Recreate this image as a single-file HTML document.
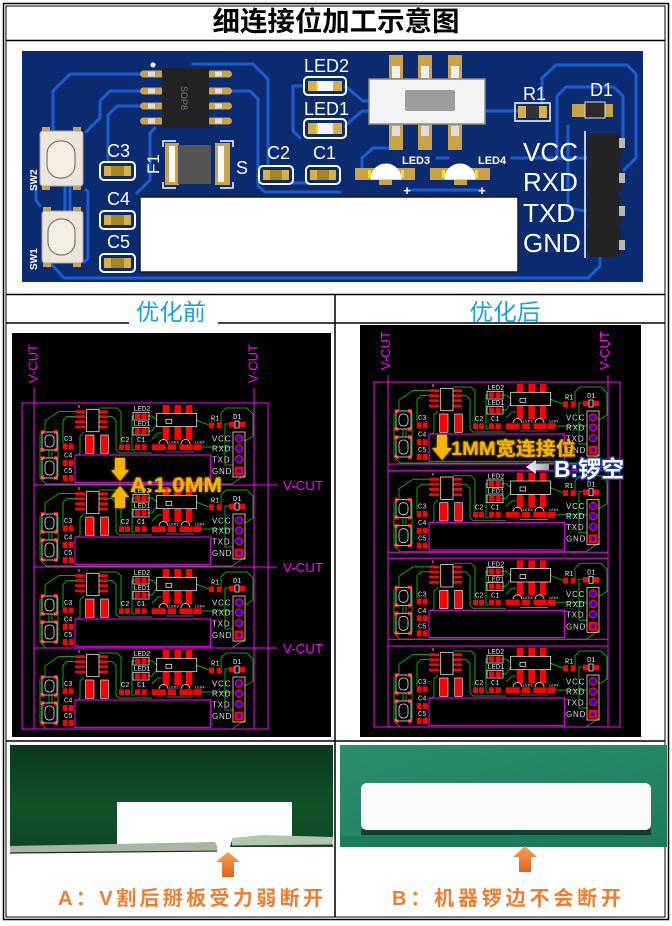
<!DOCTYPE html>
<html><head><meta charset="utf-8">
<style>
html,body{margin:0;padding:0;background:#fff;}
svg{display:block;}
</style></head><body>
<svg width="672" height="926" viewBox="0 0 672 926" xmlns="http://www.w3.org/2000/svg" xmlns:xlink="http://www.w3.org/1999/xlink">
<defs>
 <linearGradient id="gL" x1="0" y1="0" x2="0" y2="1">
  <stop offset="0" stop-color="#0a391b"/>
  <stop offset="0.6" stop-color="#125229"/>
  <stop offset="1" stop-color="#0e4824"/>
 </linearGradient>
 <linearGradient id="gR" x1="0" y1="0" x2="1" y2="1">
  <stop offset="0" stop-color="#2b8d6f"/>
  <stop offset="0.5" stop-color="#258567"/>
  <stop offset="1" stop-color="#1d7b5c"/>
 </linearGradient>
 <linearGradient id="gO" x1="0" y1="0" x2="0" y2="1">
  <stop offset="0" stop-color="#f7a055"/>
  <stop offset="1" stop-color="#e2611e"/>
 </linearGradient>
 <linearGradient id="gW" x1="0" y1="0" x2="1" y2="0">
  <stop offset="0" stop-color="#ffffff"/>
  <stop offset="1" stop-color="#9aa0a0"/>
 </linearGradient>
 <filter id="glow" x="-10%" y="-40%" width="120%" height="180%">
  <feGaussianBlur in="SourceGraphic" stdDeviation="1.3" result="b"/>
  <feMerge><feMergeNode in="b"/><feMergeNode in="SourceGraphic"/></feMerge>
 </filter>
 <g id="bd">
  <g fill="none" stroke="#12a012" stroke-width="1">
   <path d="M41,8.5 L25,8.5 L11,18 L11,28"/>
   <path d="M41,13.5 L33,13.5 L29,17.5 L29,40"/>
   <path d="M65,5 L83,5 L87,9 L87,41"/>
   <path d="M74,13.5 L78,13.5 L82,17.5 L82,47 L85,50 L118,50"/>
   <path d="M101,13 L98,13 L98,47 L101,47"/>
   <path d="M113,13 L118,13 L123,17"/>
   <path d="M113,28 L118,28 L123,21"/>
   <path d="M162,17 L175,22"/>
   <path d="M187,20 L187,10 L192,5 L213,5 L219,11 L219,33 L211,38"/>
   <path d="M195,21 L191,21 L191,62 L199,62"/>
   <path d="M6,31 L6,75 L12,81 L198,81 L211,72"/>
   <path d="M15,47 L15,55 M18,47 L18,55"/>
   <path d="M24,30 L24,74"/>
   <path d="M118,36 L124,30 L128,30"/>
   <path d="M167,44 L199,44"/>
   <path d="M50,29 L46,33 L46,50 L43,53"/>
  </g>
  <path d="M132,49 L160,49" stroke="#bbb" stroke-width="0.6"/>
  <g fill="#f00">
   <rect x="41" y="7.3" width="10" height="2.7"/><rect x="41" y="12.3" width="10" height="2.7"/>
   <rect x="41" y="17.3" width="10" height="2.7"/><rect x="41" y="22.6" width="10" height="2.7"/>
   <rect x="65" y="7.3" width="9" height="2.7"/><rect x="65" y="12.3" width="9" height="2.7"/>
   <rect x="65" y="17.3" width="9" height="2.7"/><rect x="65" y="22.6" width="9" height="2.7"/>
   <rect x="51.7" y="32" width="8.3" height="18.3" stroke="#fff" stroke-width="0.6"/>
   <rect x="66.7" y="32" width="7.6" height="18.3" stroke="#fff" stroke-width="0.6"/>
   <rect x="6.5" y="27" width="4" height="4"/><rect x="20" y="27" width="4" height="4"/>
   <rect x="6.5" y="45" width="4" height="4"/><rect x="20" y="45" width="4" height="4"/>
   <rect x="6.5" y="53" width="4" height="4"/><rect x="20" y="53" width="4" height="4"/>
   <rect x="6.5" y="73" width="4" height="4"/><rect x="20" y="73" width="4" height="4"/>
   <rect x="28.7" y="40.3" width="4.6" height="6"/><rect x="34.7" y="40.3" width="4.6" height="6"/>
   <rect x="28.7" y="57" width="4.6" height="6"/><rect x="34.7" y="57" width="4.6" height="6"/>
   <rect x="28.7" y="72" width="4.6" height="6"/><rect x="34.7" y="72" width="4.6" height="6"/>
   <rect x="85" y="41.3" width="5" height="5.7"/><rect x="91" y="41.3" width="5" height="5.7"/>
   <rect x="101" y="41.3" width="5.2" height="5.7"/><rect x="107.5" y="41.3" width="5.2" height="5.7"/>
   <rect x="101" y="10.3" width="5.2" height="5.7"/><rect x="107.5" y="10.3" width="5.2" height="5.7"/>
   <rect x="101" y="25.3" width="5.2" height="5.7"/><rect x="107.5" y="25.3" width="5.2" height="5.7"/>
   <rect x="128.7" y="2" width="6.6" height="8.3"/><rect x="140.3" y="2" width="6.7" height="8.3"/><rect x="151.7" y="2" width="6.6" height="8.3"/>
   <rect x="128.7" y="23.7" width="6.6" height="13.3"/><rect x="140.3" y="23.7" width="6.7" height="13.3"/><rect x="151.7" y="23.7" width="6.6" height="13.3"/>
   <rect x="117.7" y="41.3" width="14" height="5.7"/><rect x="133.7" y="41.3" width="8.3" height="5.7"/>
   <rect x="145.3" y="41.3" width="13.4" height="5.7"/><rect x="159.3" y="41.3" width="8.4" height="5.7"/>
   <rect x="175" y="19.3" width="5" height="6"/><rect x="182.7" y="19.3" width="5" height="6"/>
   <rect x="195" y="18.7" width="6" height="5.6"/><rect x="205" y="18.7" width="6" height="5.6"/>
   <circle cx="205" cy="35.3" r="4.3"/><circle cx="205" cy="45.5" r="4.3"/><circle cx="205" cy="56" r="4.3"/>
   <rect x="200.5" y="63.5" width="9" height="9"/>
  </g>
  <g fill="#0000ff">
   <circle cx="205" cy="35.3" r="2.8"/><circle cx="205" cy="45.5" r="2.8"/><circle cx="205" cy="56" r="2.8"/><circle cx="205" cy="68" r="2.2"/>
  </g>
  <g fill="none" stroke="#e8e8e8" stroke-width="0.8">
   <rect x="52.7" y="6.3" width="12.3" height="22.4"/>
   <rect x="8" y="29" width="15" height="18"/><rect x="11" y="32" width="9" height="12" rx="4"/>
   <rect x="8" y="55" width="15" height="20"/><rect x="11" y="58" width="9" height="14" rx="4"/>
   <rect x="99" y="9.3" width="16" height="7.7"/><rect x="99" y="24.3" width="16" height="7.7"/>
   <rect x="122.7" y="10.3" width="40" height="13.4"/><rect x="132" y="16.3" width="5.7" height="4"/>
   <path d="M125,41 A4.5,4.5 0 0 1 134,41"/><path d="M147,41 A4.5,4.5 0 0 1 156,41"/>
   <rect x="199" y="29" width="12" height="45"/>
   <rect x="201" y="18" width="4" height="7"/>
   <path d="M45,2 L45,5"/>
  </g>
  <g fill="#e6e6e6" font-family="Liberation Mono, monospace" font-size="7">
   <text x="30" y="38">C3</text><text x="30" y="54.5">C4</text><text x="30" y="70">C5</text>
   <text x="87" y="39">C2</text><text x="103" y="39">C1</text>
   <text x="99.5" y="8">LED2</text><text x="99.5" y="23">LED1</text>
   <text x="177" y="17.5">R1</text><text x="199" y="16">D1</text>
   <text x="135" y="40.5" font-size="4">LED3</text><text x="161" y="40.5" font-size="4">LED4</text>
  </g>
  <g fill="#dcdcdc" font-family="Liberation Sans, sans-serif" font-size="8" letter-spacing="0.8">
   <text x="178" y="38.5">VCC</text><text x="178" y="48.5">RXD</text>
   <text x="178" y="59.3">TXD</text><text x="178" y="71">GND</text>
  </g>
  <rect x="41" y="52" width="135.7" height="27.3" fill="none" stroke="#ff00ff" stroke-width="1"/>
 </g>
</defs>

<!-- frame -->
<rect x="3.5" y="3.5" width="665" height="916" fill="#fff" stroke="#000" stroke-width="1.5"/>
<rect x="6" y="6" width="659" height="911" fill="none" stroke="#000" stroke-width="1"/>
<line x1="6" y1="40.5" x2="665" y2="40.5" stroke="#000" stroke-width="1.5"/>
<line x1="6" y1="294.5" x2="665" y2="294.5" stroke="#000" stroke-width="1.5"/>
<line x1="6" y1="323" x2="129" y2="323" stroke="#000" stroke-width="1.5"/>
<line x1="218" y1="323" x2="335" y2="323" stroke="#000" stroke-width="1.5"/>
<line x1="335" y1="323" x2="665" y2="323" stroke="#000" stroke-width="1.5"/>
<line x1="6" y1="741" x2="665" y2="741" stroke="#000" stroke-width="1.5"/>
<line x1="335" y1="294" x2="335" y2="917" stroke="#000" stroke-width="1.5"/>

<text x="336" y="31" text-anchor="middle" font-family="Liberation Sans, 'Noto Sans CJK SC', sans-serif" font-size="27" font-weight="bold" fill="#000" textLength="247" lengthAdjust="spacingAndGlyphs">细连接位加工示意图</text>

<!-- top PCB -->
<rect x="22" y="51" width="621" height="231" fill="#0b2b70"/>
<g fill="none" stroke="#1c5ccf" stroke-width="3" stroke-linejoin="round" stroke-linecap="round">
 <path d="M140,74 L70,74 L53,91 L53,131"/>
 <path d="M140,91 L110,91 L100,101 L100,118 L86,132"/>
 <path d="M140,106 L117,106 L108,115 L108,161"/>
 <path d="M155,128 L150,133 L150,180 L137,193"/>
 <path d="M193,64 L253,64 L268,79 L268,165"/>
 <path d="M232,91 L250,91 L258,99 L258,186 L265,192 L340,192"/>
 <path d="M52,265 L64,278 L588,278 L600,266 L600,258"/>
 <path d="M303,86 L293,86 L293,131 L300,138"/>
 <path d="M293,183 L308,183"/>
 <path d="M345,86 L363,101 L372,101"/>
 <path d="M345,126 L362,111 L372,111"/>
 <path d="M362,171 L362,158 L373,148 L389,148"/>
 <path d="M407,190 L482,190"/>
 <path d="M437,158 L448,158"/>
 <path d="M512,158 L586,158"/>
 <path d="M485,111 L517,111"/>
 <path d="M542,103 L542,78 L556,65 L627,65 L636,74 L636,158 L624,170"/>
 <path d="M557,160 L557,96 L566,87 L614,87 L623,96 L623,145"/>
 <path d="M568,126 L568,208 L585,211"/>
 <path d="M65,186 L65,211 M70,186 L70,211"/>
 <path d="M86,190 L88,192 L88,258 L84,262"/>
 <path d="M36,186 L36,200 L40,206"/>
</g>
<rect x="140" y="197" width="378" height="75" fill="#fff" stroke="#1a1a1a" stroke-width="1.5"/>

<!-- SOP8 -->
<g fill="#c9a24a">
 <rect x="140" y="70.5" width="24" height="7" rx="3.5"/><rect x="140" y="87.5" width="24" height="7" rx="3.5"/>
 <rect x="140" y="102.5" width="24" height="7" rx="3.5"/><rect x="140" y="117.5" width="24" height="7" rx="3.5"/>
 <rect x="207" y="70.5" width="25" height="7" rx="3.5"/><rect x="207" y="87.5" width="25" height="7" rx="3.5"/>
 <rect x="207" y="102.5" width="25" height="7" rx="3.5"/><rect x="207" y="117.5" width="25" height="7" rx="3.5"/>
</g>
<g fill="#dedede">
 <rect x="148" y="71.5" width="7" height="5"/><rect x="148" y="88.5" width="7" height="5"/>
 <rect x="148" y="103.5" width="7" height="5"/><rect x="148" y="118.5" width="7" height="5"/>
 <rect x="215" y="71.5" width="7" height="5"/><rect x="215" y="88.5" width="7" height="5"/>
 <rect x="215" y="103.5" width="7" height="5"/><rect x="215" y="118.5" width="7" height="5"/>
</g>
<rect x="162" y="68" width="47" height="60" rx="2" fill="#222"/>
<text transform="translate(181,98) rotate(90)" text-anchor="middle" font-family="Liberation Sans, sans-serif" font-size="9" fill="#7a7a7a">SOP8</text>
<circle cx="153" cy="65" r="2.5" fill="#fff"/>

<!-- switches -->
<g fill="#c9a24a">
 <rect x="42" y="127" width="8" height="6"/><rect x="73" y="127" width="8" height="6"/>
 <rect x="42" y="184" width="8" height="6"/><rect x="73" y="184" width="8" height="6"/>
 <rect x="43" y="207" width="8" height="6"/><rect x="73" y="207" width="8" height="6"/>
 <rect x="43" y="261" width="8" height="6"/><rect x="73" y="261" width="8" height="6"/>
</g>
<rect x="40" y="131" width="43" height="55" rx="3" fill="#ebe5db" stroke="#a9a49c" stroke-width="1"/>
<rect x="47" y="141" width="28" height="37" rx="13" fill="#f6eee2" stroke="#7d776e" stroke-width="1.2"/>
<rect x="42" y="211" width="41" height="52" rx="3" fill="#ebe5db" stroke="#a9a49c" stroke-width="1"/>
<rect x="48" y="219" width="27" height="36" rx="13" fill="#f6eee2" stroke="#7d776e" stroke-width="1.2"/>
<g fill="#fff" font-family="Liberation Sans, sans-serif" font-size="10" font-weight="bold">
 <text transform="translate(37,191) rotate(-90)">SW2</text>
 <text transform="translate(37,270) rotate(-90)">SW1</text>
</g>

<!-- capacitors -->
<g>
 <rect x="100" y="162" width="35" height="18" rx="4" fill="none" stroke="#fff" stroke-width="2"/>
 <rect x="104" y="166" width="27" height="10" fill="#a88424"/>
 <rect x="104" y="166" width="7" height="10" fill="#d8b048"/><rect x="124" y="166" width="7" height="10" fill="#d8b048"/>
 <rect x="100" y="211" width="35" height="18" rx="4" fill="none" stroke="#fff" stroke-width="2"/>
 <rect x="104" y="215" width="27" height="10" fill="#a88424"/>
 <rect x="104" y="215" width="7" height="10" fill="#d8b048"/><rect x="124" y="215" width="7" height="10" fill="#d8b048"/>
 <rect x="100" y="254" width="35" height="18" rx="4" fill="none" stroke="#fff" stroke-width="2"/>
 <rect x="104" y="258" width="27" height="10" fill="#a88424"/>
 <rect x="104" y="258" width="7" height="10" fill="#d8b048"/><rect x="124" y="258" width="7" height="10" fill="#d8b048"/>
 <rect x="259" y="166" width="34" height="18" rx="4" fill="none" stroke="#fff" stroke-width="2"/>
 <rect x="263" y="170" width="26" height="10" fill="#a88424"/>
 <rect x="263" y="170" width="7" height="10" fill="#d8b048"/><rect x="282" y="170" width="7" height="10" fill="#d8b048"/>
 <rect x="306" y="166" width="34" height="18" rx="4" fill="none" stroke="#fff" stroke-width="2"/>
 <rect x="310" y="170" width="26" height="10" fill="#a88424"/>
 <rect x="310" y="170" width="7" height="10" fill="#d8b048"/><rect x="329" y="170" width="7" height="10" fill="#d8b048"/>
</g>

<!-- LED2 / LED1 -->
<g>
 <rect x="304" y="77" width="42" height="18" rx="4" fill="none" stroke="#fff" stroke-width="2"/>
 <rect x="308" y="81" width="9" height="10" fill="#d8b048"/><rect x="333" y="81" width="9" height="10" fill="#d8b048"/>
 <rect x="317" y="81" width="16" height="10" fill="#f5f5f5"/><rect x="316" y="82" width="2" height="8" fill="#e6e020"/>
 <rect x="304" y="119" width="42" height="19" rx="4" fill="none" stroke="#fff" stroke-width="2"/>
 <rect x="308" y="123" width="9" height="11" fill="#d8b048"/><rect x="333" y="123" width="9" height="11" fill="#d8b048"/>
 <rect x="317" y="123" width="16" height="11" fill="#f5f5f5"/><rect x="316" y="124" width="2" height="9" fill="#e6e020"/>
</g>

<!-- F1 -->
<g>
 <path d="M163,147 L163,141 L176,141 M220,141 L233,141 L233,147 M163,182 L163,188 L176,188 M220,188 L233,188 L233,182" fill="none" stroke="#fff" stroke-width="1.5"/>
 <rect x="165" y="143" width="14" height="42" fill="#c9a24a"/><rect x="169" y="146" width="6" height="36" fill="#fff"/>
 <rect x="215" y="143" width="15" height="42" fill="#c9a24a"/><rect x="218" y="146" width="6" height="36" fill="#fff"/>
 <rect x="178" y="145" width="33" height="39" fill="#555"/>
</g>

<!-- slide switch -->
<g>
 <rect x="389" y="55" width="14" height="25" fill="#c9a24a"/><rect x="392" y="66" width="8" height="12" fill="#eee"/>
 <rect x="418" y="55" width="14" height="25" fill="#c9a24a"/><rect x="421" y="66" width="8" height="12" fill="#eee"/>
 <rect x="448" y="55" width="14" height="25" fill="#c9a24a"/><rect x="451" y="66" width="8" height="12" fill="#eee"/>
 <rect x="389" y="124" width="14" height="26" fill="#c9a24a"/><rect x="392" y="126" width="8" height="10" fill="#ddd"/>
 <rect x="418" y="124" width="14" height="26" fill="#c9a24a"/><rect x="421" y="126" width="8" height="10" fill="#ddd"/>
 <rect x="448" y="124" width="14" height="26" fill="#c9a24a"/><rect x="451" y="126" width="8" height="10" fill="#ddd"/>
 <rect x="369" y="79" width="116" height="45" fill="#f3f3f3" stroke="#8c8c8c" stroke-width="1.5"/>
 <rect x="405" y="90" width="50" height="21" rx="2" fill="#9d9d9d"/>
</g>

<!-- LED3 / LED4 -->
<g>
 <rect x="355" y="168" width="60" height="12" fill="#c9a24a"/><rect x="379" y="176" width="13" height="9" fill="#c9a24a"/>
 <path d="M371,179 A15,15 0 0 1 401,179 Z" fill="#fff" stroke="#fff"/>
 <rect x="368" y="170" width="3" height="8" fill="#f0e030"/><rect x="401" y="170" width="3" height="8" fill="#f0e030"/>
 <rect x="430" y="168" width="60" height="12" fill="#c9a24a"/><rect x="454" y="176" width="13" height="9" fill="#c9a24a"/>
 <path d="M445,179 A15,15 0 0 1 475,179 Z" fill="#fff" stroke="#fff"/>
 <rect x="442" y="170" width="3" height="8" fill="#f0e030"/><rect x="475" y="170" width="3" height="8" fill="#f0e030"/>
</g>

<!-- R1, D1 -->
<rect x="515" y="103" width="35" height="18" fill="none" stroke="#fff" stroke-width="1.5"/>
<rect x="518" y="106" width="8" height="12" fill="#d8b048"/><rect x="539" y="106" width="8" height="12" fill="#d8b048"/>
<rect x="526" y="106" width="13" height="12" fill="#333"/>
<rect x="572" y="104" width="41" height="13" fill="#c9a24a"/>
<rect x="585" y="102" width="20" height="16" fill="#2a2a2a" stroke="#ddd" stroke-width="1"/>

<!-- header -->
<path d="M585,131 L585,258" stroke="#fff" stroke-width="1.5"/>
<g fill="#232323">
 <rect x="587" y="133" width="34" height="31" rx="6"/>
 <rect x="587" y="164" width="34" height="31" rx="6"/>
 <rect x="587" y="195" width="34" height="31" rx="6"/>
 <rect x="587" y="226" width="34" height="31" rx="6"/>
 <rect x="589" y="140" width="28" height="110"/>
</g>
<g fill="#b8b8b8">
 <rect x="619" y="138" width="6" height="10"/><rect x="619" y="173" width="6" height="10"/>
 <rect x="619" y="206" width="6" height="10"/><rect x="619" y="240" width="6" height="10"/>
</g>

<!-- PCB labels -->
<g fill="#fff" font-family="Liberation Sans, sans-serif">
 <text x="107" y="157" font-size="18">C3</text>
 <text x="107" y="205" font-size="18">C4</text>
 <text x="107" y="248" font-size="18">C5</text>
 <text x="267" y="159" font-size="18">C2</text>
 <text x="313" y="159" font-size="18">C1</text>
 <text x="304" y="72" font-size="18">LED2</text>
 <text x="304" y="115" font-size="18">LED1</text>
 <text x="523" y="100" font-size="18">R1</text>
 <text x="590" y="96" font-size="18">D1</text>
 <text x="236" y="174" font-size="18">S</text>
 <text transform="translate(159,174) rotate(-90)" font-size="17">F1</text>
 <text x="402" y="164" font-size="11" font-weight="bold">LED3</text>
 <text x="478" y="164" font-size="11" font-weight="bold">LED4</text>
 <text x="407" y="195" font-size="13" font-weight="bold" text-anchor="middle">+</text>
 <text x="482" y="195" font-size="13" font-weight="bold" text-anchor="middle">+</text>
 <text x="523" y="161" font-size="26">VCC</text>
 <text x="523" y="191" font-size="26">RXD</text>
 <text x="523" y="222" font-size="26">TXD</text>
 <text x="523" y="252" font-size="26">GND</text>
</g>

<!-- headers -->
<text x="171" y="320" text-anchor="middle" font-family="Liberation Sans, 'Noto Sans CJK SC', sans-serif" font-size="23" fill="#1ba1e2" textLength="70" lengthAdjust="spacingAndGlyphs">优化前</text>
<text x="505" y="320" text-anchor="middle" font-family="Liberation Sans, 'Noto Sans CJK SC', sans-serif" font-size="23" fill="#1ba1e2" textLength="71" lengthAdjust="spacingAndGlyphs">优化后</text>

<!-- left panel -->
<rect x="12" y="333" width="319" height="404" fill="#000"/>
<use xlink:href="#bd" href="#bd" transform="translate(34,403)"/>
<use xlink:href="#bd" href="#bd" transform="translate(34,485)"/>
<use xlink:href="#bd" href="#bd" transform="translate(34,567)"/>
<use xlink:href="#bd" href="#bd" transform="translate(34,648)"/>
<g stroke="#ff00ff" stroke-width="1" fill="none">
 <rect x="22" y="403" width="246" height="326"/>
 <line x1="34" y1="388" x2="34" y2="729"/>
 <line x1="254" y1="388" x2="254" y2="729"/>
 <line x1="34" y1="485" x2="277" y2="485"/>
 <line x1="34" y1="567" x2="277" y2="567"/>
 <line x1="34" y1="648" x2="277" y2="648"/>
</g>
<g fill="#ff00ff" font-family="Liberation Sans, sans-serif" font-size="13">
 <text transform="translate(37.5,383) rotate(-90)">V-CUT</text>
 <text transform="translate(257.5,383) rotate(-90)">V-CUT</text>
 <text x="283" y="490" textLength="40" lengthAdjust="spacingAndGlyphs">V-CUT</text>
 <text x="283" y="572" textLength="40" lengthAdjust="spacingAndGlyphs">V-CUT</text>
 <text x="283" y="653" textLength="40" lengthAdjust="spacingAndGlyphs">V-CUT</text>
</g>
<g fill="#f5b400" filter="url(#glow)">
 <polygon points="115,458 125,458 125,470 129,470 120,481 111,470 115,470"/>
 <polygon points="120,486 129,497 125,497 125,508 115,508 115,497 111,497"/>
 <text x="130" y="492" font-family="Liberation Sans, sans-serif" font-size="21" font-weight="bold" textLength="92" lengthAdjust="spacingAndGlyphs">A:1.0MM</text>
</g>

<!-- right panel -->
<rect x="360" y="325" width="281" height="412" fill="#000"/>
<use xlink:href="#bd" href="#bd" transform="translate(388,382)"/>
<use xlink:href="#bd" href="#bd" transform="translate(388,470.7)"/>
<use xlink:href="#bd" href="#bd" transform="translate(388,558.3)"/>
<use xlink:href="#bd" href="#bd" transform="translate(388,646)"/>
<g stroke="#ff00ff" stroke-width="1" fill="none">
 <rect x="374" y="382" width="246" height="345"/>
 <line x1="388" y1="375" x2="388" y2="727"/>
 <line x1="608" y1="375" x2="608" y2="727"/>
 <line x1="388" y1="464" x2="608" y2="464"/>
 <line x1="388" y1="470.7" x2="608" y2="470.7"/>
 <line x1="388" y1="552.3" x2="608" y2="552.3"/>
 <line x1="388" y1="558.3" x2="608" y2="558.3"/>
 <line x1="388" y1="639.3" x2="608" y2="639.3"/>
 <line x1="388" y1="646" x2="608" y2="646"/>
</g>
<g fill="#ff00ff" font-family="Liberation Sans, sans-serif" font-size="13">
 <text transform="translate(390,370) rotate(-90)">V-CUT</text>
 <text transform="translate(609,370) rotate(-90)">V-CUT</text>
</g>
<g fill="#f5b400" filter="url(#glow)">
 <polygon points="437,435 447,435 447,448 452,448 442,460 432,448 437,448"/>
 <text x="451" y="455" font-family="Liberation Sans, 'Noto Sans CJK SC', sans-serif" font-size="19" font-weight="bold" textLength="125" lengthAdjust="spacingAndGlyphs">1MM宽连接位</text>
</g>
<polygon points="526,467 536,460 536,464 549,464 549,470 536,470 536,474" fill="url(#gW)"/>
<text x="554" y="477" font-family="Liberation Sans, 'Noto Sans CJK SC', sans-serif" font-size="23" font-weight="bold" fill="#fff" stroke="#1a3a9a" stroke-width="3" paint-order="stroke" stroke-linejoin="round" textLength="70" lengthAdjust="spacingAndGlyphs">B:锣空</text>

<!-- left photo -->
<rect x="10" y="745" width="323" height="102" fill="url(#gL)"/>
<polygon points="117,802 292,802 292,838 262,836 232,840 230,847 217,847 215,842 117,845" fill="#fff"/>
<polygon points="10,846 215,842 217,846 217,850 10,853" fill="#a5b9a1"/>
<polyline points="10,853 217,851" fill="none" stroke="#222" stroke-width="1.2"/>
<polygon points="232,838 262,835 333,837 333,845 232,846" fill="#b2c5ae"/>
<polyline points="232,846 333,845" fill="none" stroke="#333" stroke-width="1"/>
<polygon points="228,852 240,862 234,862 234,877 222,877 222,862 216,862" fill="url(#gO)"/>

<!-- right photo -->
<rect x="340" y="745" width="327" height="102" fill="url(#gR)"/>
<rect x="340" y="836" width="327" height="11" fill="#1d7a5a"/>
<rect x="361" y="829" width="290" height="6" fill="#0c3f2d"/>
<rect x="361" y="783" width="290" height="47" rx="6" fill="#fbfbfb"/>
<polygon points="525,846 537,857 531,857 531,872 519,872 519,857 513,857" fill="url(#gO)"/>

<!-- captions -->
<text x="58" y="905" font-family="Liberation Sans, 'Noto Sans CJK SC', sans-serif" font-size="20" font-weight="bold" fill="#ed7d31" textLength="265" lengthAdjust="spacing">A：V割后掰板受力弱断开</text>
<text x="392" y="905" font-family="Liberation Sans, 'Noto Sans CJK SC', sans-serif" font-size="20" font-weight="bold" fill="#ed7d31" textLength="229" lengthAdjust="spacing">B：机器锣边不会断开</text>
</svg>
</body></html>
